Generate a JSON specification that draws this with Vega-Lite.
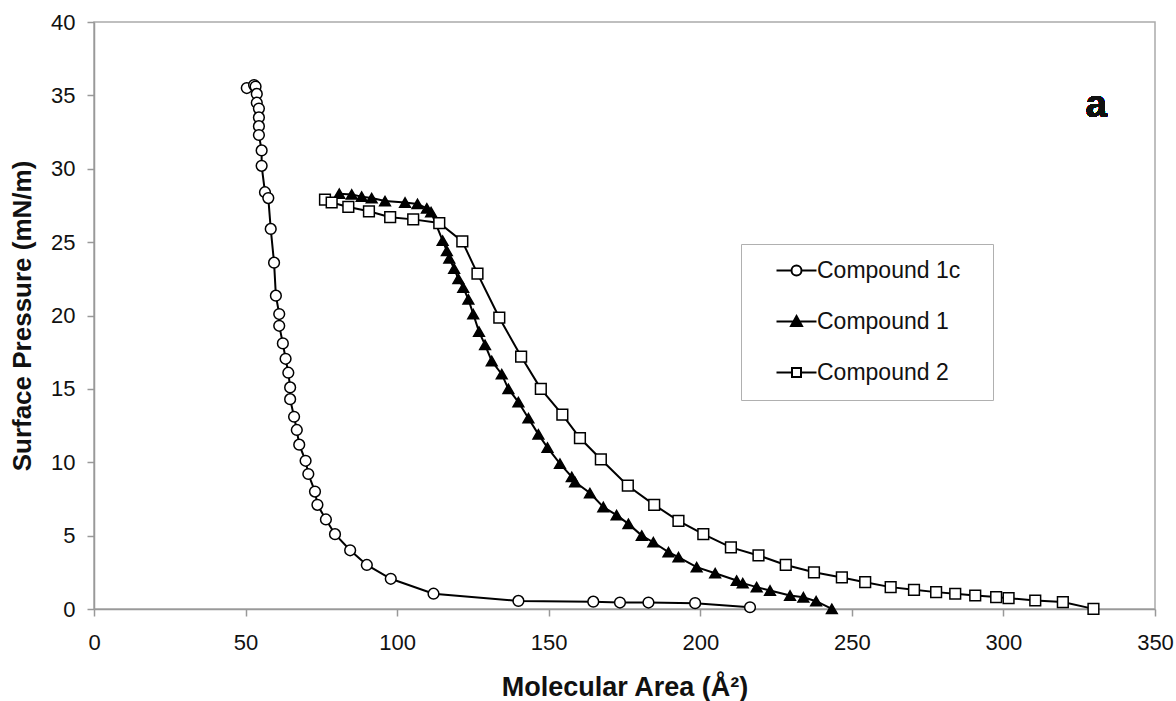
{
  "$schema": "https://vega.github.io/schema/vega-lite/v6.json",
  "width": 1061,
  "height": 587,
  "autosize": {"type": "none"},
  "padding": {"left": 94, "top": 22, "right": 21, "bottom": 92},
  "background": "white",
  "config": {
    "view": {"stroke": "#aaaaaa", "strokeWidth": 1.5},
    "axis": {
      "grid": false,
      "domainColor": "#999999",
      "domainWidth": 1.5,
      "tickColor": "#999999",
      "tickWidth": 1.5,
      "tickSize": 7,
      "labelFont": "Liberation Sans",
      "labelFontSize": 22,
      "labelColor": "#111111",
      "titleFont": "Liberation Sans",
      "titleFontWeight": "bold",
      "titleColor": "#111111",
      "labelFlush": false,
      "labelOverlap": false
    },
    "legend": {
      "orient": "none", "legendX": 647, "legendY": 222,
      "padding": 15, "rowPadding": 27, "symbolSize": 400, "symbolOffset": 29, "labelOffset": 9,
      "labelFont": "Liberation Sans", "labelFontSize": 23, "labelColor": "#111111",
      "strokeColor": "#b0b0b0", "fillColor": "white", "symbolStrokeWidth": 2,
      "titleOrient": "right", "titlePadding": 18, "titleFontSize": 20, "titleFont": "Liberation Sans"
    }
  },
  "data": {
    "values": [
      {"s": "Compound 1c", "i": 1, "x": 50.4, "y": 35.5},
      {"s": "Compound 1c", "i": 2, "x": 52.8, "y": 35.7},
      {"s": "Compound 1c", "i": 3, "x": 53.3, "y": 35.6},
      {"s": "Compound 1c", "i": 4, "x": 53.7, "y": 35.1},
      {"s": "Compound 1c", "i": 5, "x": 53.7, "y": 34.5},
      {"s": "Compound 1c", "i": 6, "x": 54.4, "y": 34.1},
      {"s": "Compound 1c", "i": 7, "x": 54.4, "y": 33.5},
      {"s": "Compound 1c", "i": 8, "x": 54.4, "y": 32.9},
      {"s": "Compound 1c", "i": 9, "x": 54.4, "y": 32.3},
      {"s": "Compound 1c", "i": 10, "x": 55.3, "y": 31.25},
      {"s": "Compound 1c", "i": 11, "x": 55.3, "y": 30.2},
      {"s": "Compound 1c", "i": 12, "x": 56.4, "y": 28.4},
      {"s": "Compound 1c", "i": 13, "x": 57.5, "y": 28.0},
      {"s": "Compound 1c", "i": 14, "x": 58.3, "y": 25.9},
      {"s": "Compound 1c", "i": 15, "x": 59.4, "y": 23.6},
      {"s": "Compound 1c", "i": 16, "x": 60.0, "y": 21.35},
      {"s": "Compound 1c", "i": 17, "x": 61.1, "y": 20.1},
      {"s": "Compound 1c", "i": 18, "x": 61.1, "y": 19.3},
      {"s": "Compound 1c", "i": 19, "x": 62.3, "y": 18.1},
      {"s": "Compound 1c", "i": 20, "x": 63.2, "y": 17.05},
      {"s": "Compound 1c", "i": 21, "x": 64.1, "y": 16.1},
      {"s": "Compound 1c", "i": 22, "x": 64.7, "y": 15.1},
      {"s": "Compound 1c", "i": 23, "x": 64.7, "y": 14.3},
      {"s": "Compound 1c", "i": 24, "x": 66.0, "y": 13.1},
      {"s": "Compound 1c", "i": 25, "x": 66.9, "y": 12.2},
      {"s": "Compound 1c", "i": 26, "x": 67.7, "y": 11.2},
      {"s": "Compound 1c", "i": 27, "x": 69.8, "y": 10.1},
      {"s": "Compound 1c", "i": 28, "x": 70.7, "y": 9.2},
      {"s": "Compound 1c", "i": 29, "x": 72.9, "y": 8.0},
      {"s": "Compound 1c", "i": 30, "x": 73.7, "y": 7.1},
      {"s": "Compound 1c", "i": 31, "x": 76.5, "y": 6.1},
      {"s": "Compound 1c", "i": 32, "x": 79.5, "y": 5.1},
      {"s": "Compound 1c", "i": 33, "x": 84.5, "y": 4.0},
      {"s": "Compound 1c", "i": 34, "x": 90.0, "y": 3.0},
      {"s": "Compound 1c", "i": 35, "x": 97.9, "y": 2.06},
      {"s": "Compound 1c", "i": 36, "x": 112.0, "y": 1.04},
      {"s": "Compound 1c", "i": 37, "x": 140.0, "y": 0.55},
      {"s": "Compound 1c", "i": 38, "x": 164.7, "y": 0.5},
      {"s": "Compound 1c", "i": 39, "x": 173.5, "y": 0.44},
      {"s": "Compound 1c", "i": 40, "x": 182.9, "y": 0.44},
      {"s": "Compound 1c", "i": 41, "x": 198.3, "y": 0.4},
      {"s": "Compound 1c", "i": 42, "x": 216.4, "y": 0.12},

      {"s": "Compound 1", "i": 1, "x": 80.9, "y": 28.3},
      {"s": "Compound 1", "i": 2, "x": 85.0, "y": 28.25},
      {"s": "Compound 1", "i": 3, "x": 88.3, "y": 28.1},
      {"s": "Compound 1", "i": 4, "x": 91.6, "y": 28.0},
      {"s": "Compound 1", "i": 5, "x": 96.0, "y": 27.8},
      {"s": "Compound 1", "i": 6, "x": 102.6, "y": 27.7},
      {"s": "Compound 1", "i": 7, "x": 106.7, "y": 27.6},
      {"s": "Compound 1", "i": 8, "x": 109.8, "y": 27.3},
      {"s": "Compound 1", "i": 9, "x": 111.2, "y": 27.05},
      {"s": "Compound 1", "i": 10, "x": 115.0, "y": 25.1},
      {"s": "Compound 1", "i": 11, "x": 116.4, "y": 24.4},
      {"s": "Compound 1", "i": 12, "x": 117.2, "y": 23.9},
      {"s": "Compound 1", "i": 13, "x": 118.8, "y": 23.2},
      {"s": "Compound 1", "i": 14, "x": 120.2, "y": 22.5},
      {"s": "Compound 1", "i": 15, "x": 121.8, "y": 21.9},
      {"s": "Compound 1", "i": 16, "x": 123.5, "y": 21.1},
      {"s": "Compound 1", "i": 17, "x": 125.1, "y": 20.1},
      {"s": "Compound 1", "i": 18, "x": 127.0, "y": 18.9},
      {"s": "Compound 1", "i": 19, "x": 129.0, "y": 18.0},
      {"s": "Compound 1", "i": 20, "x": 131.2, "y": 16.9},
      {"s": "Compound 1", "i": 21, "x": 134.5, "y": 16.0},
      {"s": "Compound 1", "i": 22, "x": 136.7, "y": 15.0},
      {"s": "Compound 1", "i": 23, "x": 140.0, "y": 14.1},
      {"s": "Compound 1", "i": 24, "x": 143.3, "y": 13.0},
      {"s": "Compound 1", "i": 25, "x": 146.6, "y": 11.9},
      {"s": "Compound 1", "i": 26, "x": 149.6, "y": 11.0},
      {"s": "Compound 1", "i": 27, "x": 153.7, "y": 9.9},
      {"s": "Compound 1", "i": 28, "x": 157.6, "y": 9.0},
      {"s": "Compound 1", "i": 29, "x": 158.7, "y": 8.65},
      {"s": "Compound 1", "i": 30, "x": 163.6, "y": 7.9},
      {"s": "Compound 1", "i": 31, "x": 168.0, "y": 6.95},
      {"s": "Compound 1", "i": 32, "x": 172.4, "y": 6.4},
      {"s": "Compound 1", "i": 33, "x": 176.3, "y": 5.8},
      {"s": "Compound 1", "i": 34, "x": 180.7, "y": 5.0},
      {"s": "Compound 1", "i": 35, "x": 184.5, "y": 4.55},
      {"s": "Compound 1", "i": 36, "x": 189.5, "y": 3.87},
      {"s": "Compound 1", "i": 37, "x": 192.8, "y": 3.53},
      {"s": "Compound 1", "i": 38, "x": 198.8, "y": 2.85},
      {"s": "Compound 1", "i": 39, "x": 204.9, "y": 2.44},
      {"s": "Compound 1", "i": 40, "x": 212.0, "y": 1.94},
      {"s": "Compound 1", "i": 41, "x": 214.0, "y": 1.76},
      {"s": "Compound 1", "i": 42, "x": 218.6, "y": 1.49},
      {"s": "Compound 1", "i": 43, "x": 223.0, "y": 1.26},
      {"s": "Compound 1", "i": 44, "x": 229.6, "y": 0.92},
      {"s": "Compound 1", "i": 45, "x": 234.0, "y": 0.8},
      {"s": "Compound 1", "i": 46, "x": 238.2, "y": 0.53},
      {"s": "Compound 1", "i": 47, "x": 243.4, "y": 0.01},

      {"s": "Compound 2", "i": 1, "x": 76.2, "y": 27.9},
      {"s": "Compound 2", "i": 2, "x": 78.4, "y": 27.7},
      {"s": "Compound 2", "i": 3, "x": 83.9, "y": 27.4},
      {"s": "Compound 2", "i": 4, "x": 90.7, "y": 27.1},
      {"s": "Compound 2", "i": 5, "x": 97.7, "y": 26.7},
      {"s": "Compound 2", "i": 6, "x": 105.3, "y": 26.55},
      {"s": "Compound 2", "i": 7, "x": 113.9, "y": 26.3},
      {"s": "Compound 2", "i": 8, "x": 121.5, "y": 25.05},
      {"s": "Compound 2", "i": 9, "x": 126.5, "y": 22.85},
      {"s": "Compound 2", "i": 10, "x": 133.7, "y": 19.85},
      {"s": "Compound 2", "i": 11, "x": 140.9, "y": 17.2},
      {"s": "Compound 2", "i": 12, "x": 147.4, "y": 15.0},
      {"s": "Compound 2", "i": 13, "x": 154.5, "y": 13.25},
      {"s": "Compound 2", "i": 14, "x": 160.3, "y": 11.65},
      {"s": "Compound 2", "i": 15, "x": 167.2, "y": 10.2},
      {"s": "Compound 2", "i": 16, "x": 176.1, "y": 8.4},
      {"s": "Compound 2", "i": 17, "x": 184.8, "y": 7.1},
      {"s": "Compound 2", "i": 18, "x": 192.8, "y": 6.0},
      {"s": "Compound 2", "i": 19, "x": 201.0, "y": 5.1},
      {"s": "Compound 2", "i": 20, "x": 210.1, "y": 4.2},
      {"s": "Compound 2", "i": 21, "x": 219.2, "y": 3.65},
      {"s": "Compound 2", "i": 22, "x": 228.2, "y": 3.0},
      {"s": "Compound 2", "i": 23, "x": 237.5, "y": 2.5},
      {"s": "Compound 2", "i": 24, "x": 246.7, "y": 2.15},
      {"s": "Compound 2", "i": 25, "x": 254.4, "y": 1.83},
      {"s": "Compound 2", "i": 26, "x": 262.8, "y": 1.49},
      {"s": "Compound 2", "i": 27, "x": 270.5, "y": 1.31},
      {"s": "Compound 2", "i": 28, "x": 277.8, "y": 1.15},
      {"s": "Compound 2", "i": 29, "x": 284.1, "y": 1.04},
      {"s": "Compound 2", "i": 30, "x": 290.7, "y": 0.92},
      {"s": "Compound 2", "i": 31, "x": 297.6, "y": 0.81},
      {"s": "Compound 2", "i": 32, "x": 301.7, "y": 0.74},
      {"s": "Compound 2", "i": 33, "x": 310.5, "y": 0.58},
      {"s": "Compound 2", "i": 34, "x": 319.6, "y": 0.47},
      {"s": "Compound 2", "i": 35, "x": 329.7, "y": 0.01}
    ]
  },
  "encoding": {
    "x": {
      "field": "x", "type": "quantitative",
      "scale": {"domain": [0, 350], "nice": false, "zero": false},
      "axis": {"values": [0, 50, 100, 150, 200, 250, 300, 350], "labelPadding": 16, "titlePadding": 21, "titleFontSize": 27, "title": "Molecular Area (Å²)"}
    },
    "y": {
      "field": "y", "type": "quantitative",
      "scale": {"domain": [0, 40], "nice": false},
      "axis": {"values": [0, 5, 10, 15, 20, 25, 30, 35, 40], "labelPadding": 12, "titlePadding": 15, "titleFontSize": 26, "title": "Surface Pressure (mN/m)"}
    }
  },
  "resolve": {"scale": {"shape": "independent", "fill": "independent", "stroke": "independent"}},
  "layer": [
    {
      "mark": {"type": "line", "color": "black", "strokeWidth": 2},
      "encoding": {
        "detail": {"field": "s"},
        "order": {"field": "i", "type": "quantitative"}
      }
    },
    {
      "mark": {"type": "point", "filled": true, "stroke": "black", "strokeWidth": 1.5, "opacity": 1, "size": 115},
      "encoding": {
        "shape": {
          "field": "s", "type": "nominal",
          "scale": {"domain": ["Compound 1c", "Compound 1", "Compound 2"], "range": ["circle", "triangle-up", "square"]},
          "legend": null
        },
        "fill": {
          "field": "s", "type": "nominal",
          "scale": {"domain": ["Compound 1c", "Compound 1", "Compound 2"], "range": ["white", "black", "white"]},
          "legend": null
        }
      }
    },
    {
      "transform": [{"filter": "datum.i < 0"}],
      "mark": {"type": "point", "filled": true, "strokeWidth": 2, "opacity": 1},
      "encoding": {
        "shape": {
          "field": "s", "type": "nominal",
          "scale": {"domain": ["Compound 1c", "Compound 1", "Compound 2"], "range": [
            "M-2,0H-0.5M0.5,0H2M0.5,0A0.5,0.5,0,1,1,-0.5,0A0.5,0.5,0,1,1,0.5,0Z",
            "M-2,0H2M0,-0.55L0.55,0.45L-0.55,0.45Z",
            "M-2,0H-0.45M0.45,0H2M-0.45,-0.45H0.45V0.45H-0.45Z"
          ]},
          "legend": {"title": "\u00a0"}
        },
        "fill": {
          "field": "s", "type": "nominal",
          "scale": {"domain": ["Compound 1c", "Compound 1", "Compound 2"], "range": ["white", "black", "white"]},
          "legend": {"title": "\u00a0"}
        },
        "stroke": {
          "field": "s", "type": "nominal",
          "scale": {"domain": ["Compound 1c", "Compound 1", "Compound 2"], "range": ["black", "black", "black"]},
          "legend": {"title": "\u00a0"}
        }
      }
    },
    {
      "mark": {"type": "text", "font": "Liberation Sans", "fontSize": 38, "fontWeight": "bold", "align": "center", "baseline": "alphabetic", "color": "#111111"},
      "encoding": {
        "x": {"datum": 330.6},
        "y": {"datum": 33.5},
        "text": {"value": "a"}
      }
    }
  ]
}
